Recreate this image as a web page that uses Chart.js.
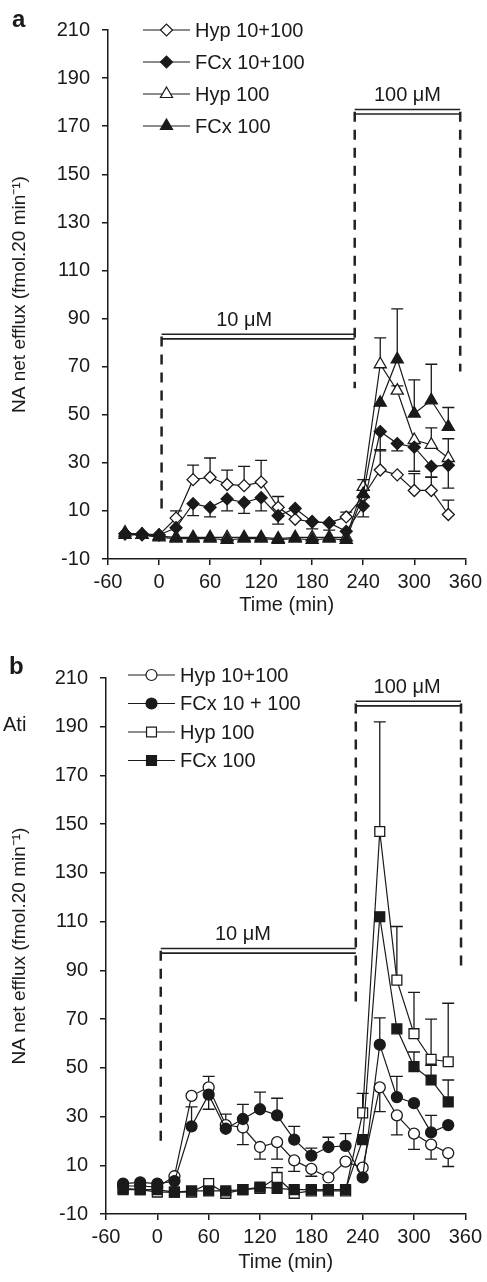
<!DOCTYPE html>
<html>
<head>
<meta charset="utf-8">
<script src="https://cdn.jsdelivr.net/npm/chart.js@4.4.1/dist/chart.umd.min.js"></script>
<style>
  body { margin: 0; background: #fff; }
  canvas { position: absolute; left: 0; }
  #chartA { top: 0; }
  #chartB { top: 640px; }
</style>
</head>
<body>
<canvas id="chartA" width="487" height="625"></canvas>
<canvas id="chartB" width="487" height="642"></canvas>
<script>
// sampling times (min) and axis ticks
const times = [-40, -20, 0, 20, 40, 60, 80, 100, 120, 140, 160, 180, 200, 220, 240, 260, 280, 300, 320, 340];
const xTicks = [-60, 0, 60, 120, 180, 240, 300, 360];
const yTicks = [-10, 10, 30, 50, 70, 90, 110, 130, 150, 170, 190, 210];

// panel a : NA net efflux, errors signed (+ drawn up, - drawn down)
const aLabels = ['Hyp 10+100', 'FCx 10+100', 'Hyp 100', 'FCx 100'];
const aHyp10 = [0.5, 0, 0, 7, 23, 24, 21, 20.5, 22, 11.5, 6.5, 5.5, 5, 7.5, 16, 27, 25, 18.5, 18.5, 8.5];
const aHyp10Err = [0, 0, 0, 3, 6, 8, 6, 8, 9, 4.5, 0, 0, 0, 2, 0, 8.5, 0, 7, 5.5, 6];
const aFcx10 = [0.5, 0.5, 0, 3, 13, 11.5, 15, 13.5, 15.5, 8, 11, 5.5, 5, 1.5, 12, 43, 38, 36.5, 28.5, 29];
const aFcx10Err = [0, 0, 0, 0, -5, -4, -5, -4.5, -5.5, -3.5, 0, -3, -3, 0, -4.5, -8, -3, -10, -4.5, -9.5];
const aHyp100 = [1, 0, -0.5, -1, -1, -1, -1, -1, -1, -1.5, -1, -1, -1, -1, 20, 71, 60, 39.5, 37.5, 32];
const aHyp100Err = [0, 0, 0, 0, 0, 0, 0, 0, 0, 0, 0, 0, 0, 0, 3, 11, 2, 0, 7, 8];
const aFcx100 = [0, 0, -1, -1.5, -1.5, -1.5, -2, -1.5, -1.5, -2, -1.5, -2, -1.5, -2, 17, 55, 73, 50.5, 56, 45];
const aFcx100Err = [0, 0, 0, 0, 0, 0, 0, 0, 0, 0, 0, 0, 0, 0, 0, 0, 21, 14, 15, 8];

// panel b
const bLabels = ['Hyp 10+100', 'FCx 10 + 100', 'Hyp 100', 'FCx 100'];
const bHyp10 = [1.5, 1.5, 1, 5.5, 38.5, 42, 26.5, 25.5, 17.5, 19.5, 12, 8.5, 5, 11.5, 9, 42, 30.5, 23, 18.5, 15];
const bHyp10Err = [0, 0, 0, 0, 0, 4.5, 0, -7, -5, -7, -4.5, -3, 0, 0, 0, -10, -8, -6.5, -6, -5.5];
const bFcx10 = [2.5, 3, 2.5, 3.5, 26, 39, 25, 29, 33, 30.5, 20.5, 14, 17.5, 18, 5, 59.5, 38, 35.5, 23.5, 26.5];
const bFcx10Err = [0, 0, 0, 0, 8, -6, 6, 6, 7, 7, 5.5, 3, 4, 5, 0, 11, 8.5, 0, 7, 0];
const bHyp100 = [0, 0, -1, -1, -1, 2.5, -1.5, 0, 0.5, 5, -1.5, -0.5, -0.5, -0.5, 31.5, 147, 86, 64, 53.5, 52.5];
const bHyp100Err = [0, 0, 0, 0, 0, 0, 0, 0, 0, 4, 0, 0, 0, 0, 8, 45, 22, 17, 16.5, 24];
const bFcx100 = [0.5, 0, 0, -1, -0.5, -0.5, -0.5, 0, 1, 0.5, 0, 0, 0, 0, 20.5, 112, 66, 50.5, 45, 36];
const bFcx100Err = [0, 0, 0, 0, 0, 0, 0, 0, 0, 0, 0, 0, 0, 0, 0, 0, 0, 6, 6, 9];

const FONT = "'Liberation Sans', Arial, sans-serif";
const INK = '#1a1a1a';

function series(vals) {
  return times.map((t, i) => ({ x: t, y: vals[i] }));
}

// order: lower number is drawn on top (filled symbols sit over open ones)
function makeDataset(label, vals, errs, style, filled, radius, order) {
  return {
    label: label,
    data: series(vals),
    errors: errs,
    order: order,
    pointStyle: style,
    pointRadius: radius,
    pointBackgroundColor: filled ? INK : '#fff',
    pointBorderColor: INK,
    pointBorderWidth: 1.3,
    borderColor: INK,
    borderWidth: 1.2,
    tension: 0
  };
}

// error bars, drawn under the markers
const errorBars = {
  id: 'errorBars',
  beforeDatasetsDraw(chart) {
    const ctx = chart.ctx;
    const yScale = chart.scales.y;
    ctx.save();
    ctx.strokeStyle = INK;
    ctx.lineWidth = 1.3;
    chart.data.datasets.forEach((ds, i) => {
      const meta = chart.getDatasetMeta(i);
      meta.data.forEach((pt, j) => {
        const e = ds.errors[j];
        if (!e) return;
        const yEnd = yScale.getPixelForValue(ds.data[j].y + e);
        ctx.beginPath();
        ctx.moveTo(pt.x, pt.y);
        ctx.lineTo(pt.x, yEnd);
        ctx.moveTo(pt.x - 6, yEnd);
        ctx.lineTo(pt.x + 6, yEnd);
        ctx.stroke();
      });
    });
    ctx.restore();
  }
};

// dashed application lines and the double bars with concentrations
const doseMarks = {
  id: 'doseMarks',
  beforeDatasetsDraw(chart, args, opts) {
    const ctx = chart.ctx;
    const xs = chart.scales.x, ys = chart.scales.y;
    ctx.save();
    ctx.strokeStyle = '#222';
    ctx.lineWidth = 2.5;
    ctx.setLineDash([10, 8]);
    opts.dashes.forEach(d => {
      const x = xs.getPixelForValue(d.x);
      ctx.beginPath();
      ctx.moveTo(x, ys.getPixelForValue(d.to));
      ctx.lineTo(x, ys.getPixelForValue(d.from));
      ctx.stroke();
    });
    ctx.setLineDash([]);
    ctx.lineWidth = 1.6;
    ctx.fillStyle = INK;
    ctx.font = '20px ' + FONT;
    ctx.textAlign = 'center';
    ctx.textBaseline = 'bottom';
    opts.bars.forEach(b => {
      const x1 = xs.getPixelForValue(b.from), x2 = xs.getPixelForValue(b.to);
      const y = ys.getPixelForValue(b.level);
      ctx.beginPath();
      ctx.moveTo(x1, y - 2.3); ctx.lineTo(x2, y - 2.3);
      ctx.moveTo(x1, y + 2.3); ctx.lineTo(x2, y + 2.3);
      ctx.stroke();
      ctx.fillText(b.label, xs.getPixelForValue(b.labelAt), y - 6);
    });
    ctx.restore();
  }
};

// key with line + marker, and panel tags
const panelKey = {
  id: 'panelKey',
  afterDraw(chart, args, opts) {
    const ctx = chart.ctx;
    ctx.save();
    chart.data.datasets.forEach((ds, i) => {
      const y = opts.y + i * opts.step;
      ctx.strokeStyle = INK;
      ctx.lineWidth = 1.2;
      ctx.beginPath();
      ctx.moveTo(opts.x, y);
      ctx.lineTo(opts.x + opts.len, y);
      ctx.stroke();
      ctx.fillStyle = ds.pointBackgroundColor;
      Chart.helpers.drawPoint(ctx, {
        pointStyle: ds.pointStyle, radius: ds.pointRadius, rotation: 0, borderWidth: 1.3
      }, opts.x + opts.len / 2, y);
      ctx.fillStyle = INK;
      ctx.font = '20px ' + FONT;
      ctx.textAlign = 'left';
      ctx.textBaseline = 'middle';
      ctx.fillText(ds.label, opts.x + opts.len + 5, y + 1);
    });
    opts.tags.forEach(t => {
      ctx.font = (t.bold ? 'bold 24px ' : '20px ') + FONT;
      ctx.textAlign = 'left';
      ctx.textBaseline = 'middle';
      ctx.fillText(t.text, t.x, t.y);
    });
    ctx.restore();
  }
};

function axes(yWidth, xHeight) {
  const tickFont = { family: FONT, size: 20 };
  return {
    x: {
      type: 'linear', min: -60, max: 360,
      afterBuildTicks: s => { s.ticks = xTicks.map(v => ({ value: v })); },
      afterFit: s => { s.height = xHeight; },
      grid: { drawOnChartArea: false, drawTicks: true, tickLength: 6, color: INK, lineWidth: 1.5 },
      border: { display: true, color: INK, width: 1.5 },
      ticks: { color: INK, font: tickFont, padding: 5, maxRotation: 0, autoSkip: false },
      title: { display: true, text: 'Time (min)', color: INK, font: tickFont, padding: { top: 0, bottom: 8 } }
    },
    y: {
      min: -10, max: 210,
      afterBuildTicks: s => { s.ticks = yTicks.map(v => ({ value: v })); },
      afterFit: s => { s.width = yWidth; },
      grid: { drawOnChartArea: false, drawTicks: true, tickLength: 6, color: INK, lineWidth: 1.5 },
      border: { display: true, color: INK, width: 1.5 },
      ticks: { color: INK, font: tickFont, padding: 12 },
      title: { display: true, text: 'NA net efflux (fmol.20 min\u207B\u00B9)', color: INK, font: { family: FONT, size: 19 }, padding: { top: 8, bottom: 0 } }
    }
  };
}

new Chart(document.getElementById('chartA'), {
  type: 'line',
  data: {
    datasets: [
      makeDataset(aLabels[0], aHyp10, aHyp10Err, 'rectRot', false, 6, 3),
      makeDataset(aLabels[1], aFcx10, aFcx10Err, 'rectRot', true, 6, 1),
      makeDataset(aLabels[2], aHyp100, aHyp100Err, 'triangle', false, 7, 2),
      makeDataset(aLabels[3], aFcx100, aFcx100Err, 'triangle', true, 7, 0)
    ]
  },
  options: {
    responsive: false,
    animation: false,
    devicePixelRatio: 1,
    events: [],
    layout: { padding: { top: 30, right: 21, bottom: 0, left: 0 } },
    scales: axes(108, 66),
    plugins: {
      legend: { display: false },
      tooltip: { enabled: false },
      doseMarks: {
        dashes: [{ x: 3, from: 9.7, to: 82.5 }, { x: 230, from: 61, to: 176 }, { x: 354, from: 68, to: 176 }],
        bars: [{ from: 3, to: 230, level: 82.5, label: '10 \u03BCM', labelAt: 100 },
               { from: 230, to: 354, level: 176, label: '100 \u03BCM', labelAt: 292 }]
      },
      panelKey: { x: 143, y: 30, step: 32, len: 47, tags: [{ text: 'a', x: 12, y: 20, bold: true }] }
    }
  },
  plugins: [errorBars, doseMarks, panelKey]
});

new Chart(document.getElementById('chartB'), {
  type: 'line',
  data: {
    datasets: [
      makeDataset(bLabels[0], bHyp10, bHyp10Err, 'circle', false, 5.5, 3),
      makeDataset(bLabels[1], bFcx10, bFcx10Err, 'circle', true, 5.5, 1),
      makeDataset(bLabels[2], bHyp100, bHyp100Err, 'rect', false, 7, 2),
      makeDataset(bLabels[3], bFcx100, bFcx100Err, 'rect', true, 7, 0)
    ]
  },
  options: {
    responsive: false,
    animation: false,
    devicePixelRatio: 1,
    events: [],
    layout: { padding: { top: 38, right: 20, bottom: 0, left: 0 } },
    scales: axes(106, 68),
    plugins: {
      legend: { display: false },
      tooltip: { enabled: false },
      doseMarks: {
        dashes: [{ x: 4, from: 19, to: 98 }, { x: 232, from: 77, to: 199.5 }, { x: 355, from: 91.5, to: 199.5 }],
        bars: [{ from: 4, to: 232, level: 98, label: '10 \u03BCM', labelAt: 100 },
               { from: 232, to: 355, level: 199.5, label: '100 \u03BCM', labelAt: 292 }]
      },
      panelKey: { x: 128, y: 35, step: 28.5, len: 47,
        tags: [{ text: 'b', x: 9, y: 27, bold: true }, { text: 'Ati', x: 3, y: 85, bold: false }] }
    }
  },
  plugins: [errorBars, doseMarks, panelKey]
});
</script>
</body>
</html>
